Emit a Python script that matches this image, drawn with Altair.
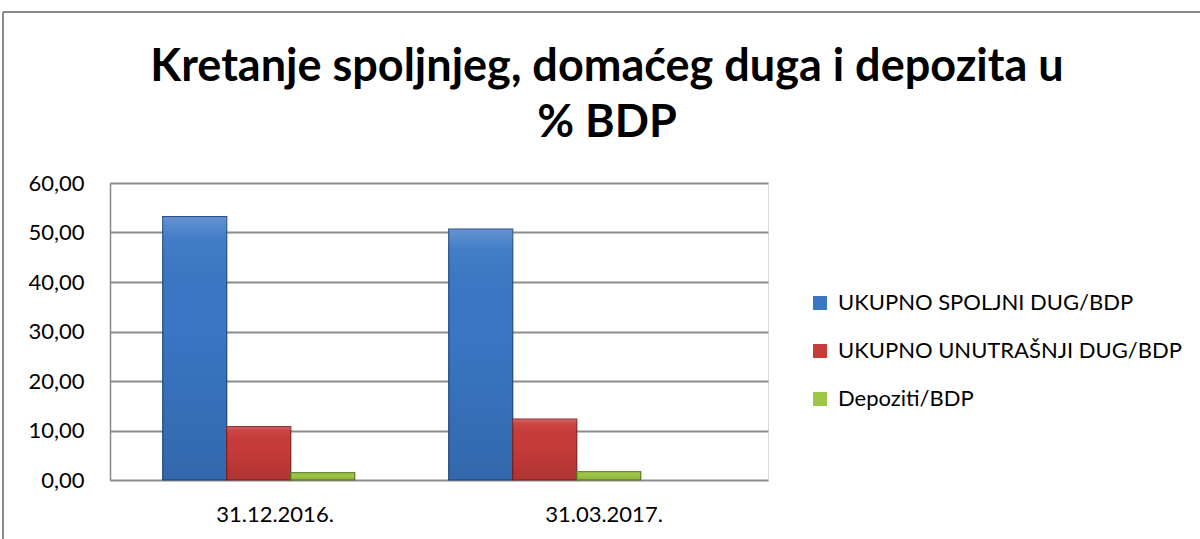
import altair as alt
import pandas as pd

dates = ["31.12.2016.", "31.03.2017."]
series = ["UKUPNO SPOLJNI DUG/BDP", "UKUPNO UNUTRAŠNJI DUG/BDP", "Depoziti/BDP"]
spoljni = [53.2, 50.7]
unutrasnji = [10.8, 12.3]
depoziti = [1.5, 1.7]
y_ticks = [0, 10, 20, 30, 40, 50, 60]
title_lines = ["Kretanje spoljnjeg, domaćeg duga i depozita u", "% BDP"]

fills = ["#3A76C4", "#C73B39", "#9DC645"]
strokes = ["#1E4A82", "#842222", "#5C7A22"]

rows = []
for i, d in enumerate(dates):
    for s, vals in zip(series, [spoljni, unutrasnji, depoziti]):
        rows.append({"date": d, "series": s, "value": vals[i]})
df = pd.DataFrame(rows)

FONT = "Lato"

y_enc = alt.Y("value:Q", title=None,
              scale=alt.Scale(domain=[0, 60], nice=False),
              axis=alt.Axis(values=y_ticks, ticks=False, domain=True,
                            domainColor="#888888", domainWidth=1.5,
                            grid=True, gridColor="#8c8c8c", gridWidth=2,
                            labelFontSize=22, labelFont=FONT, labelColor="#000000",
                            labelPadding=26,
                            labelExpr="replace(format(datum.value, '.2f'), '.', ',')"))

# category axis (labels at the centres of the full-width categories)
axis_layer = alt.Chart(df).mark_point(opacity=0).encode(
    x=alt.X("date:N", sort=dates, title=None,
            scale=alt.Scale(paddingInner=0, paddingOuter=0),
            axis=alt.Axis(labelAngle=0, ticks=False, domain=False, grid=False,
                          labelFontSize=22, labelFont=FONT, labelColor="#000000",
                          labelPadding=24)),
    y=y_enc,
)

bar_x = alt.X("date:N", sort=dates, title=None,
              scale=alt.Scale(paddingInner=0.3287, paddingOuter=0.3147, align=0.293),
              axis=None)
bar_xoff = alt.XOffset("series:N", sort=series,
                       scale=alt.Scale(paddingInner=0, paddingOuter=0))

bars = alt.Chart(df).mark_bar(strokeWidth=1.2).encode(
    x=bar_x,
    xOffset=bar_xoff,
    y=y_enc,
    color=alt.Color("series:N", sort=series,
                    scale=alt.Scale(domain=series, range=fills),
                    legend=alt.Legend(title=None, orient="none", legendX=699, legendY=109,
                                      symbolType="square", symbolSize=196,
                                      symbolStrokeWidth=0, labelLimit=0,
                                      labelFontSize=22, labelFont=FONT,
                                      labelColor="#000000", rowPadding=26,
                                      labelOffset=7)),
    stroke=alt.Stroke("series:N", sort=series,
                      scale=alt.Scale(domain=series, range=strokes), legend=None),
)

# soft vertical shading over the bars (lighter top, darker bottom)
shade = alt.Chart(df).mark_bar(
    fill=alt.Gradient(gradient="linear", x1=0, y1=0, x2=0, y2=1,
                      stops=[alt.GradientStop(color="rgba(255,255,255,0.22)", offset=0),
                             alt.GradientStop(color="rgba(255,255,255,0.05)", offset=0.08),
                             alt.GradientStop(color="rgba(0,0,0,0.0)", offset=0.4),
                             alt.GradientStop(color="rgba(0,0,0,0.12)", offset=1)]),
    strokeWidth=0,
).encode(x=bar_x, xOffset=bar_xoff, y=y_enc)

title_text = alt.Chart(alt.Data(values=[{}])).mark_text(
    text=title_lines, font=FONT, fontSize=45, fontWeight="bold", color="#000000",
    align="center", baseline="alphabetic", lineHeight=56,
).encode(x=alt.value(497), y=alt.value(-102))

border_v = alt.Chart(alt.Data(values=[{}])).mark_rule(color="#888888", strokeWidth=2).encode(
    x=alt.value(-107), y=alt.value(-171), y2=alt.value(360))
border_h = alt.Chart(alt.Data(values=[{}])).mark_rule(color="#888888", strokeWidth=2).encode(
    x=alt.value(-107), x2=alt.value(1095), y=alt.value(-171))

chart = alt.layer(axis_layer, bars, shade, title_text, border_v, border_h).resolve_scale(
    x="independent"
).properties(
    width=658, height=297,
    autosize=alt.AutoSizeParams(type="none"),
    padding={"left": 110, "top": 183, "right": 432, "bottom": 59},
).configure_view(stroke=None).configure(background="white")

chart.save("out.html", embed_options={"renderer": "svg", "actions": False})
